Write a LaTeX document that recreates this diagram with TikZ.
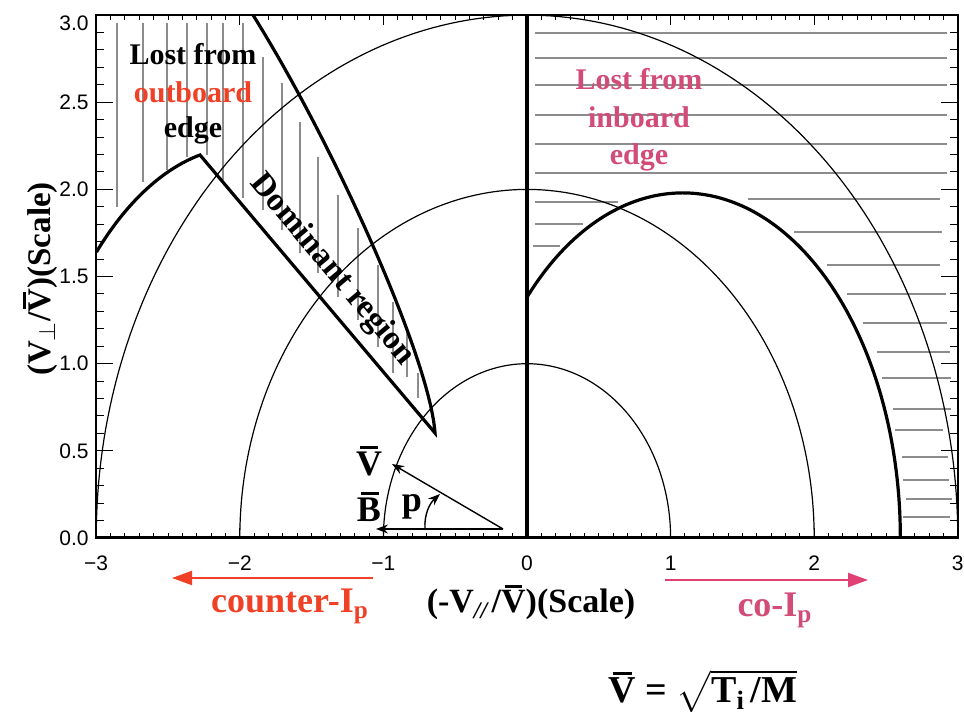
\documentclass[tikz,border=0pt]{standalone}
\usepackage{fontspec}
\usepackage{amsmath}
\setmainfont{Liberation Serif}
\setsansfont{Liberation Sans}
\usetikzlibrary{arrows.meta}
\definecolor{redc}{RGB}{240,64,38}
\definecolor{pinkc}{RGB}{210,76,120}
\definecolor{pinka}{RGB}{225,64,115}
\definecolor{hatchc}{gray}{0.55}
\newcommand\obar[1]{\vbox{\offinterlineskip\hbox{\kern0.1em\rule{0.52em}{0.075em}}\kern0.08em\hbox{#1}}}
\begin{document}
\begin{tikzpicture}[x=0.5pt,y=-0.5pt,
  frame/.style={line width=0.9pt},
  tick/.style={line width=0.5pt},
  circ/.style={line width=0.6pt},
  bound/.style={line width=1.6pt, line join=miter},
  hatch/.style={line width=0.55pt, draw=hatchc},
  ticklab/.style={font=\sffamily\fontsize{10.5}{12}\selectfont, inner sep=0pt},
  note/.style={font=\bfseries\fontsize{15}{18}\selectfont, inner sep=0pt, anchor=base},
  axlab/.style={font=\bfseries\fontsize{16.5}{20}\selectfont, inner sep=0pt},
  dirlab/.style={font=\bfseries\fontsize{18}{22}\selectfont, inner sep=0pt, anchor=base},
  vec/.style={line width=0.7pt, -{Stealth[length=6pt,width=4.5pt]}},
  dirarrow/.style={line width=1pt, -{Triangle[length=10pt,width=7pt]}}
]
\useasboundingbox (0,0) rectangle (964,715);
% hatching left (outboard + dominant region)
\foreach \xx/\ya/\yb in {117/23/207, 143/23/182, 167/23/170, 187/23/157, 207/23/155, 223/23/180, 243/23/198, 263/57/210, 282/83/230, 300/122/253, 318/157/273, 338/195/297, 358/228/320, 378/265/347, 393/302/373, 407/333/377, 418/373/398}
  \draw[hatch] (\xx,\ya) -- (\xx,\yb);
% hatching right (inboard)
\foreach \yy/\xa/\xb in {33/535/947, 58/535/947, 85/535/947, 115/535/947, 144/535/947, 173/535/947, 202/535/618, 199/748/940, 224/535/583, 232/794/942, 246/533/560, 265/827/940, 294/847/946, 323/863/947, 352/877/950, 378/882/951, 409/893/951, 430/895/943, 457/902/948, 480/903/949, 499/906/952, 517/903/950}
  \draw[hatch] (\xa,\yy) -- (\xb,\yy);
% circles
\foreach \r in {1,2,3}
  \draw[circ] plot[domain=0:180,samples=150] ({527+143.6*\r*cos(\x)},{538-174.3*\r*sin(\x)});
% thick boundaries
\draw[line width=1.8pt] (527,538) -- (527,15);
\draw[bound] plot[domain=0:135.74,samples=120] ({527+143.6*(1.085+1.515*cos(\x))},{538-174.3*1.98*sin(\x)});
\draw[bound] (96.5,252) .. controls (124,206) and (160,170) .. (200,155)
  -- (435,433) .. controls (430,360) and (336,148) .. (253,15);
% ticks
\foreach \i in {-30,...,30}{
  \pgfmathsetmacro\tx{527+14.36*\i}
  \draw[tick] (\tx,538) -- (\tx,533);
  \draw[tick] (\tx,15) -- (\tx,20);
}
\foreach \j in {0,...,30}{
  \pgfmathsetmacro\ty{538-17.43*\j}
  \draw[tick] (96.2,\ty) -- (104.2,\ty);
  \draw[tick] (957.8,\ty) -- (949.8,\ty);
}
\foreach \i/\t in {-3/−3,-2/−2,-1/−1,0/0,1/1,2/2,3/3}{
  \pgfmathsetmacro\tx{527+143.6*\i}
  \draw[tick] (\tx,538) -- (\tx,528);
  \draw[tick] (\tx,15) -- (\tx,25);
  \node[ticklab] (xl\i) at (\tx,563) {\t};
}
\foreach \j in {0,...,6}{
  \pgfmathsetmacro\ty{538-87.15*\j}
  \draw[tick] (96.2,\ty) -- (113.2,\ty);
  \draw[tick] (957.8,\ty) -- (940.8,\ty);
}
\foreach \j/\t in {0/0.0,1/0.5,2/1.0,3/1.5,4/2.0,5/2.5}{
  \pgfmathsetmacro\ty{538-87.15*\j}
  \node[ticklab, anchor=east] (yl\j) at (89,\ty) {\t};
}
\node[ticklab, anchor=east] (yl6) at (89,23) {3.0};
% frame
\draw[frame] (96.2,15) rectangle (957.8,538);
\draw[line width=1.5pt] (96.2,538) -- (957.8,538);
% annotations
\node[note] (outA) at (193,65) {Lost from};
\node[note, text=redc] (outB) at (193,103) {outboard};
\node[note] (outC) at (193,138) {edge};
\node[note, text=pinkc] (inA) at (639,90) {Lost from};
\node[note, text=pinkc] (inB) at (639,128) {inboard};
\node[note, text=pinkc] (inC) at (639,165) {edge};
\node[axlab, rotate=-50] (dom) at (332,270) {Dominant region};
\node[axlab, rotate=90, anchor=base] (ylab) at (50,279) {(V$_\perp$/\obar{V})(Scale)};
\node[axlab, anchor=base, font=\bfseries\fontsize{17}{20}\selectfont] (xlab) at (531,613) {(-V\textsubscript{\textit{//}}\kern0.05em/\obar{V})(Scale)};
% direction arrows
\coordinate (cA) at (373,578); \coordinate (cB) at (172,578);
\draw[dirarrow, redc] (cA) -- (cB);
\coordinate (pA) at (665,580); \coordinate (pB) at (868,580);
\draw[dirarrow, pinka] (pA) -- (pB);
\node[dirlab, text=redc] (ctr) at (290,613) {counter-I\textsubscript{p}};
\node[dirlab, text=pinkc] (co) at (775,617) {co-I\textsubscript{p}};
% formula
\node[font=\bfseries\fontsize{19}{23}\selectfont, anchor=base, inner sep=0pt] (form) at (703,703)
  {$\obar{V}\ \text{=}\ \sqrt{\text{T}_{\text{i}}\,\text{/M}}$};
% vector sketch
\coordinate (vo) at (503,529); \coordinate (vb) at (376,529); \coordinate (vv) at (392,464);
\draw[vec] (vo) -- (vb);
\draw[vec] (vo) -- (vv);
\coordinate (pa) at (425,529); \coordinate (pe) at (440,494);
\draw[vec] (pa) .. controls (424,514) and (430,503) .. (pe);
\node[dirlab, anchor=center] (Vlab) at (369,461) {\obar{V}};
\node[dirlab, anchor=center] (Blab) at (369,507) {\obar{B}};
\node[dirlab, anchor=center] (plab) at (412,507) {p};
\end{tikzpicture}
\end{document}
